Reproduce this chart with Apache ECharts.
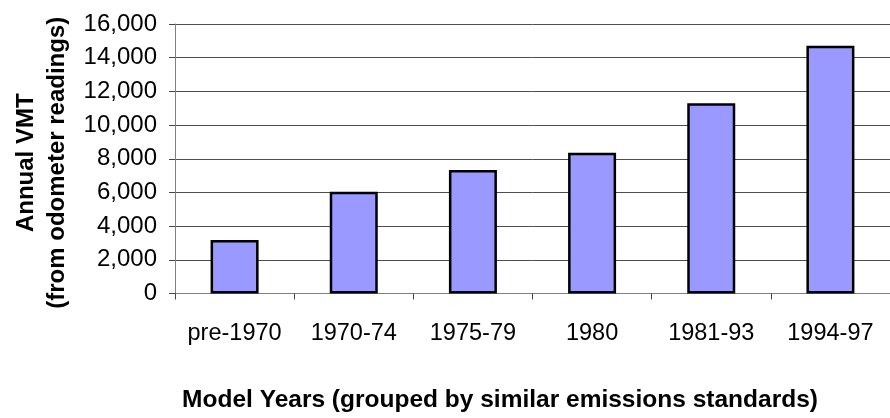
<!DOCTYPE html>
<html lang="en">
<head>
  <meta charset="UTF-8">
  <title>Annual VMT by model year</title>
  <style>
  html, body { margin: 0; padding: 0; background: #fff; }
  #main { width: 890px; height: 418px; }
  </style>
  <script src="https://cdn.jsdelivr.net/npm/echarts@6/dist/echarts.min.js"></script>
</head>
<body>
  <div id="main"></div>
  <script>
  // model year groups and annual VMT
  var categories = ['pre-1970', '1970-74', '1975-79', '1980', '1981-93', '1994-97']
  var vmt = [3180, 6040, 7330, 8360, 11290, 14710]

  var font = '"Liberation Sans", Arial, sans-serif'

  var chart = echarts.init(document.getElementById('main'))
  chart.setOption({
    animation: false,
    backgroundColor: '#fff',
    grid: {
      left: 175,
      top: 24,
      width: 720,
      height: 269.5
    },
    xAxis: {
      type: 'category',
      data: categories,
      name: 'Model Years (grouped by similar emissions standards)',
      nameLocation: 'middle',
      nameGap: 94,
      nameTextStyle: {
        fontFamily: font,
        fontSize: 24.5,
        fontWeight: 'bold',
        color: '#000',
        // title sits a bit left of the plot centre
        padding: [0, 65, 0, 0]
      },
      axisLine: { lineStyle: { color: '#808080', width: 1 } },
      axisTick: { show: true, interval: 0, length: 6, lineStyle: { color: '#444' } },
      axisLabel: {
        interval: 0,
        hideOverlap: false,
        margin: 28,
        fontFamily: font,
        fontSize: 23.5,
        color: '#000'
      }
    },
    yAxis: {
      type: 'value',
      min: 0,
      max: 16000,
      interval: 2000,
      name: 'Annual VMT\n(from odometer readings)',
      nameLocation: 'middle',
      nameRotate: 90,
      nameGap: 100,
      nameTextStyle: {
        fontFamily: font,
        fontSize: 24,
        fontWeight: 'bold',
        color: '#000',
        lineHeight: 31,
        padding: [0, 8, 0, 0]
      },
      axisLine: { show: true, lineStyle: { color: '#808080', width: 1 } },
      axisTick: { show: true, length: 6, lineStyle: { color: '#444' } },
      splitLine: { lineStyle: { color: '#4d4d4d', width: 1 } },
      axisLabel: {
        margin: 18,
        fontFamily: font,
        fontSize: 24,
        color: '#000',
        formatter: function (v) {
          return v.toLocaleString('en-US')
        }
      }
    },
    series: [{
      type: 'bar',
      data: vmt,
      barWidth: 48,
      itemStyle: {
        color: '#9999ff',
        borderColor: '#000',
        borderWidth: 2.5
      }
    }]
  })
  </script>
</body>
</html>
